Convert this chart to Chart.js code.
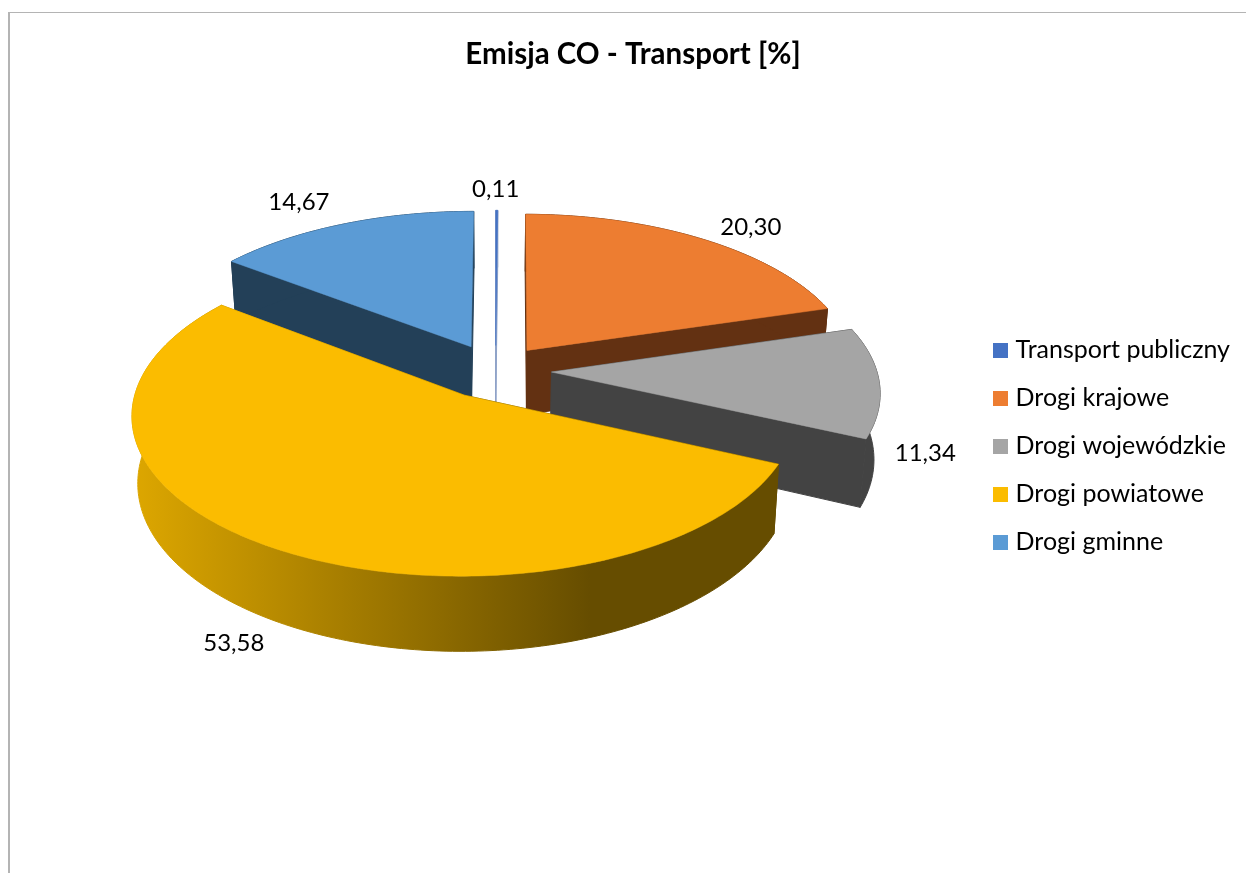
<!DOCTYPE html>
<html><head><meta charset="utf-8">
<script src="https://cdn.jsdelivr.net/npm/chart.js@4"></script>
<style>
html,body{margin:0;padding:0;background:#fff;overflow:hidden}
#frame{position:absolute;left:8px;top:12px;width:1240px;height:865px;border-left:2px solid #b4b4b4;border-top:1px solid #b4b4b4}
canvas{position:absolute;left:0;top:0}
</style></head><body>
<div id="frame"></div>
<canvas id="c" width="1246" height="873"></canvas>
<script>
const categories = ['Transport publiczny','Drogi krajowe','Drogi wojewódzkie','Drogi powiatowe','Drogi gminne'];
const values = [0.11,20.30,11.34,53.58,14.67];
const topColors = ['#4472C4','#ED7D31','#A5A5A5','#FBBC00','#5B9BD5'];
const wallColors = ['#8FA3C8','#633112','#434343','#FBBC00','#234058'];
const explode = [212,212,224,240,224];
const radialScale = [1,1,0.985,0.98,1];
const labelNudges = [[-1,-21],[48,-12],[41,71],[-35,92],[-44,-22]];
const drawOrder = [0,4,1,2,3];
const PIE = {shiftX:-5, shiftY:-76, persp:0.119, tilt:0.475, depth:65, shrink:0.984};

const pie3d = {
  id:'pie3d',
  beforeDatasetDraw(chart){
    const ctx = chart.ctx, meta = chart.getDatasetMeta(0), arcs = meta.data;
    const R = arcs[0].outerRadius;
    const cx = arcs[0].x + PIE.shiftX, cy = arcs[0].y + PIE.shiftY;
    const proj = (px,py)=>{
      const f = 1/(1 - PIE.persp*py/R);
      return [cx + px*f, cy + PIE.tilt*py*f, f];
    };
    const low = (p)=>[cx + (p[0]-cx)*PIE.shrink, p[1] + PIE.depth*p[2]];
    const poly = (pts,fill,lw)=>{
      ctx.beginPath();
      pts.forEach((p,i)=> i? ctx.lineTo(p[0],p[1]) : ctx.moveTo(p[0],p[1]));
      ctx.closePath(); ctx.fillStyle = fill; ctx.fill();
      ctx.strokeStyle = fill; ctx.lineWidth = lw; ctx.stroke();
    };
    const grad = ctx.createLinearGradient(137,0,590,0);
    grad.addColorStop(0,'#DCA600'); grad.addColorStop(1,'#664D00');
    const geo = arcs.map((el,idx)=>{
      const a0 = el.startAngle, a1 = el.endAngle, mid = (a0+a1)/2;
      const e = el.options.offset/4, r = R*radialScale[idx];
      const ox = Math.cos(mid)*e, oy = Math.sin(mid)*e;
      const apex = proj(ox,oy), rim = [];
      const n = Math.max(2, Math.ceil((a1-a0)*180/Math.PI));
      for(let i=0;i<=n;i++){
        const a = a0+(a1-a0)*i/n;
        rim.push(proj(ox+Math.cos(a)*r, oy+Math.sin(a)*r));
      }
      const lab = proj(Math.cos(mid)*(R+e), Math.sin(mid)*(R+e));
      return {apex,rim,lab};
    });
    drawOrder.forEach(i=>{
      const g = geo[i], wall = i===3 ? grad : wallColors[i];
      const a = g.apex, s = g.rim[0], t = g.rim[g.rim.length-1];
      poly([a,s,low(s),low(a)], wall, 1);
      poly([a,t,low(t),low(a)], wall, 1);
      poly(g.rim.concat(g.rim.slice().reverse().map(low)), wall, 1);
      poly([a].concat(g.rim), topColors[i], 0.5);
    });
    ctx.fillStyle='#000'; ctx.font='24px Lato'; ctx.textAlign='center'; ctx.textBaseline='middle';
    geo.forEach((g,i)=>{
      ctx.fillText(values[i].toFixed(2).replace('.',','), g.lab[0]+labelNudges[i][0], g.lab[1]+labelNudges[i][1]);
    });
    return false;
  }
};

const swatch = (col)=>{
  const s = document.createElement('canvas'); s.width=15; s.height=15;
  const x = s.getContext('2d'); x.fillStyle=col; x.fillRect(0,0,15,15); return s;
};

new Chart(document.getElementById('c'),{
  type:'pie',
  plugins:[pie3d],
  data:{labels:categories,datasets:[{data:values,backgroundColor:topColors,borderWidth:0,offset:explode,radius:330}]},
  options:{
    responsive:false,animation:false,
    layout:{padding:{left:26,right:6,top:0,bottom:63}},
    plugins:{
      tooltip:{enabled:false},
      title:{display:true,text:'Emisja CO - Transport [%]',color:'#000',
        font:{family:'Lato',size:29.5,weight:'bold'},padding:{top:37,bottom:10}},
      legend:{position:'right',fullSize:false,labels:{
        color:'#000',font:{family:'Lato',size:25},padding:23,usePointStyle:true,pointStyleWidth:5,boxHeight:15,
        generateLabels(chart){
          return Chart.overrides.pie.plugins.legend.labels.generateLabels(chart).map((l,i)=>({...l,pointStyle:swatch(topColors[i])}));
        }
      }}
    }
  }
});
</script>
</body></html>
